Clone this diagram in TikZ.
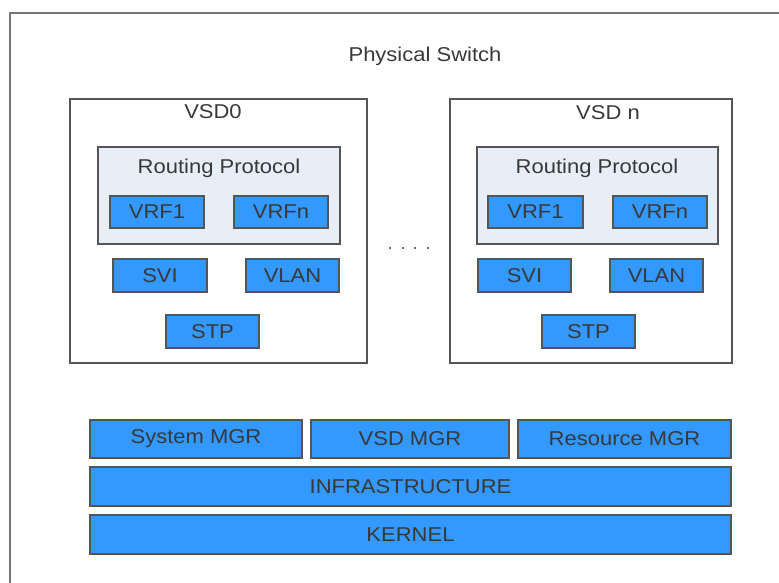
\documentclass[tikz,border=0pt]{standalone}
\usepackage{fontspec}
\setmainfont{Liberation Sans}[FakeStretch=1.1]
\definecolor{bluefill}{HTML}{3399FF}
\definecolor{rpfill}{HTML}{E8EEF7}
\definecolor{edge}{HTML}{555555}
\definecolor{outeredge}{HTML}{777777}
\definecolor{txt}{HTML}{383838}
\begin{document}
\begin{tikzpicture}[x=1pt,y=-1pt,
  base/.style={rectangle, draw=edge, line width=2pt, inner sep=0pt, text=txt,
    font=\fontsize{20}{22}\selectfont},
  bluebox/.style={base, fill=bluefill},
  rpbox/.style={base, fill=rpfill},
  vsdbox/.style={base, draw=edge, line width=1.6pt, fill=white},
  lbl/.style={text=txt, inner sep=0pt, font=\fontsize{20}{22}\selectfont}]
\newcommand\mybox[6]{%
  \node[#1, minimum width={((#4)-(#2))*1pt}, minimum height={((#5)-(#3))*1pt}]
    (#6) at ({((#2)+(#4))/2},{((#3)+(#5))/2}) {};}
\newcommand\boxtext[7]{%
  \node[#1, minimum width={((#4)-(#2))*1pt}, minimum height={((#5)-(#3))*1pt}]
    (#6) at ({((#2)+(#4))/2},{((#3)+(#5))/2}) {#7};}
\useasboundingbox (0,0) rectangle (779,582);
\clip (0,0) rectangle (779,582);
% outer physical switch box
\draw[outeredge, line width=1.8pt] (10,13) rectangle (800,600);
\node[lbl] (phys) at (425,56) {Physical Switch};
% VSD0
\mybox{vsdbox}{70}{99}{367}{363}{vsd0}
\node[lbl] (vsd0lbl) at (213,112) {VSD0};
\mybox{rpbox}{98}{147}{340}{244}{rp0}
\node[lbl] (rp0lbl) at (219,168) {Routing Protocol};
\boxtext{bluebox}{110}{196}{204}{228}{vrf1a}{VRF1}
\boxtext{bluebox}{234}{196}{328}{228}{vrfna}{VRFn}
\boxtext{bluebox}{113}{259}{207}{292}{svia}{SVI}
\boxtext{bluebox}{246}{259}{339}{292}{vlana}{VLAN}
\boxtext{bluebox}{166}{315}{259}{348}{stpa}{STP}
% dots
\foreach \xx in {390,403,415,428} \fill[txt] (\xx,248) circle (1.2);
% VSD n
\mybox{vsdbox}{450}{99}{732}{363}{vsdn}
\node[lbl] (vsdnlbl) at (608,113) {VSD n};
\mybox{rpbox}{477}{147}{718}{244}{rpn}
\node[lbl] (rpnlbl) at (597,168) {Routing Protocol};
\boxtext{bluebox}{488}{196}{583}{228}{vrf1b}{VRF1}
\boxtext{bluebox}{613}{196}{707}{228}{vrfnb}{VRFn}
\boxtext{bluebox}{478}{259}{571}{292}{svib}{SVI}
\boxtext{bluebox}{610}{259}{703}{292}{vlanb}{VLAN}
\boxtext{bluebox}{542}{315}{635}{348}{stpb}{STP}
% managers and layers
\boxtext{bluebox}{90}{420}{302}{458}{sysmgr}{System MGR}
\boxtext{bluebox}{311}{420}{509}{458}{vsdmgr}{VSD MGR}
\boxtext{bluebox}{518}{420}{731}{458}{resmgr}{Resource MGR}
\boxtext{bluebox}{90}{467}{731}{506}{infra}{INFRASTRUCTURE}
\boxtext{bluebox}{90}{515}{731}{554}{kernel}{KERNEL}
\end{tikzpicture}
\end{document}
